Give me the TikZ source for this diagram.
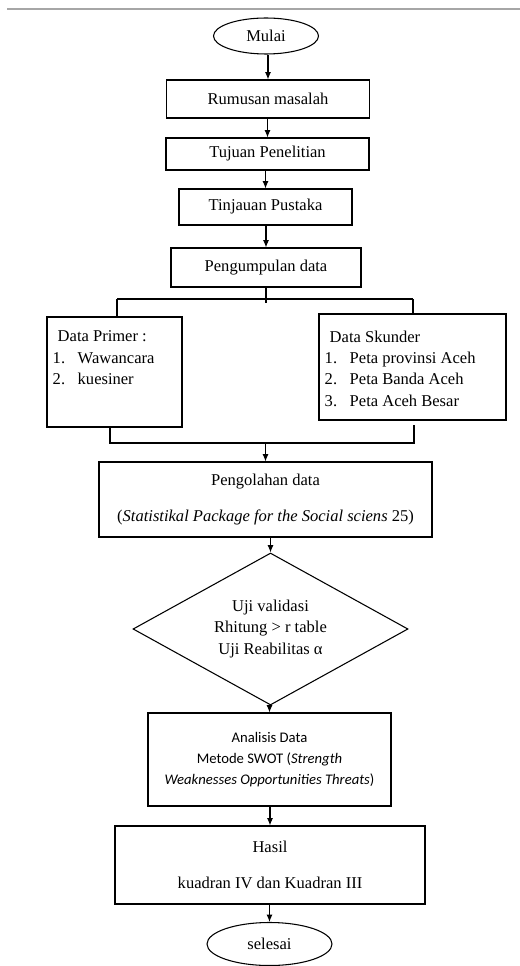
\documentclass[tikz,border=0pt]{standalone}
\usepackage{fontspec}
\setmainfont{Liberation Serif}
\newfontfamily\calibri{Carlito}
\usetikzlibrary{shapes.geometric,arrows.meta}

\begin{document}
\begin{tikzpicture}[x=0.75pt,y=-0.75pt,
  font=\fontsize{12.4}{16}\selectfont,
  box/.style={draw,line width=0.8pt,inner sep=2pt,align=center},
  oval/.style={draw,ellipse,line width=0.8pt,inner sep=0pt},
  arr/.style={-{Latex[length=5.5pt,width=4.5pt]},line width=0.8pt},
  bar/.style={line width=1.5pt}]
  \useasboundingbox (0,0) rectangle (520,966);
  \draw[gray!70,line width=1pt] (7,9) -- (520,9);

  \node[oval,minimum width=78.75pt,minimum height=27pt] (mulai) at (266,36) {Mulai};
  \node[box,minimum width=152.25pt,minimum height=28.5pt] (rumus) at (268,99) {Rumusan masalah};
  \node[box,minimum width=152.25pt,minimum height=24pt] (tujuan) at (267.5,154) {Tujuan Penelitian};
  \node[box,minimum width=129.75pt,minimum height=27pt] (tinjau) at (265.5,207) {Tinjauan Pustaka};
  \node[box,minimum width=142.5pt,minimum height=29.25pt] (kumpul) at (266,267.5) {Pengumpulan data};

  % the two sources of data
  \node[box,minimum width=101.25pt,minimum height=82.5pt] (primer) at (114.5,372) {};
  \node[box,minimum width=140.25pt,minimum height=79.5pt] (skunder) at (412.5,367) {};
  \node[anchor=north west,align=left,inner sep=0pt] (primtxt) at ([shift={(6,14)}]primer.north west)
    {\hspace*{3.75pt}Data Primer :\\\makebox[18.75pt][l]{1.}Wawancara\\\makebox[18.75pt][l]{2.}kuesiner};
  \node[anchor=north west,align=left,inner sep=0pt] (skuntxt) at ([shift={(6,17)}]skunder.north west)
    {\hspace*{3.75pt}Data Skunder\\\makebox[18.75pt][l]{1.}Peta provinsi Aceh\\
     \makebox[18.75pt][l]{2.}Peta Banda Aceh\\\makebox[18.75pt][l]{3.}Peta Aceh Besar};

  \node[box,minimum width=249.75pt,minimum height=56.25pt] (olah) at (265.5,499.5)
    {Pengolahan data\\[11pt](\textit{Statistikal Package for the Social sciens} 25)};
  \node[draw,diamond,aspect=1.81,line width=0.8pt,minimum width=206.25pt,minimum height=114pt,
    inner sep=0pt,align=center] (uji) at (270.5,629)
    {Uji validasi\\Rhitung > r table\\Uji Reabilitas α};
  \node[box,font=\calibri\fontsize{11}{15.75}\selectfont,minimum width=182.25pt,minimum height=69.75pt]
    (swot) at (269.5,759.5)
    {Analisis Data\\Metode SWOT (\textit{Strength}\\\textit{Weaknesses Opportunities Threats})};
  \node[box,minimum width=232.5pt,minimum height=58.5pt] (hasil) at (270,865)
    {Hasil\\[11pt]kuadran IV dan Kuadran III};
  \node[oval,minimum width=93.75pt,minimum height=32.25pt] (selesai) at (269.5,944) {selesai};

  % arrows down the chain
  \foreach \a/\b in {mulai/rumus,rumus/tujuan,tujuan/tinjau,tinjau/kumpul,
                     olah/uji,uji/swot,swot/hasil,hasil/selesai}
    \draw[arr] (\b.north |- \a.south) -- (\b.north);

  % split and join
  \draw[line width=2pt] (kumpul.south) -- ++(0,15);
  \coordinate (splitL) at (117,299);
  \coordinate (splitR) at (413,299);
  \draw[bar] (splitL) -- (splitR);
  \draw[bar] (splitL) -- (splitL |- primer.north);
  \draw[bar] (splitR) -- (splitR |- skunder.north);
  \coordinate (joinL) at (110,443);
  \coordinate (joinR) at (414,443);
  \draw[bar] (joinL |- primer.south) -- (joinL) -- (joinR) -- ++(0,-18);
  \draw[arr] (olah.north |- joinL) -- (olah.north);
\end{tikzpicture}
\end{document}
